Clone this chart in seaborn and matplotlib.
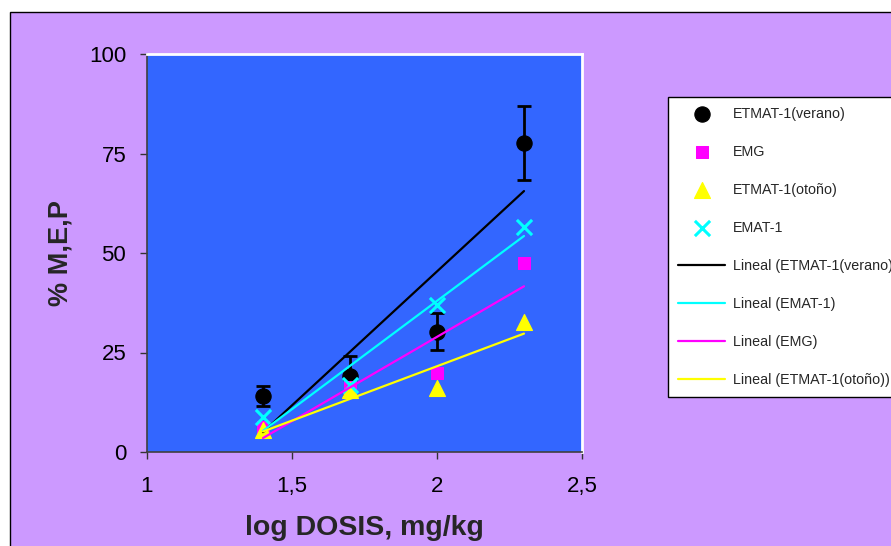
# Curvas dosis-respuesta (% M,E,P vs log dosis)

import matplotlib.pyplot as plt
import matplotlib.patches as mpatches
import seaborn as sns
import pandas as pd

log_dosis = [1.4, 1.7, 2.0, 2.3]
verano = [14.1, 19.1, 30.2, 77.7]
verano_err = [2.6, 5.0, 4.6, 9.3]
emg = [6.4, 16.4, 19.9, 47.6]
otono = [5.5, 15.6, 16.0, 32.7]
emat = [8.9, 16.8, 36.9, 56.6]

x_ticks = [1, 1.5, 2, 2.5]
x_tick_labels = ['1', '1,5', '2', '2,5']
y_ticks = [0, 25, 50, 75, 100]

df = pd.DataFrame({'x': log_dosis, 'verano': verano, 'emg': emg,
                   'otono': otono, 'emat': emat})

sns.set_style('white')
plt.rcParams['font.family'] = ['Liberation Sans', 'DejaVu Sans']

fig = plt.figure(figsize=(8.91, 5.46), dpi=100, facecolor='white')
# fondo del area del grafico (estilo Excel)
fig.patches.append(mpatches.Rectangle((10 / 891, -0.05), 1.1, 0.978 + 0.05,
                                      transform=fig.transFigure, facecolor='#CC99FF',
                                      edgecolor='black', linewidth=1, zorder=-10))

ax = fig.add_axes([147 / 891, 94 / 546, 435 / 891, 398 / 546])
ax.set_facecolor('#3366FF')

ax.errorbar(log_dosis, verano, yerr=verano_err, fmt='none', ecolor='black',
            elinewidth=2, capsize=5, capthick=2, zorder=2)
sns.scatterplot(data=df, x='x', y='verano', ax=ax, color='black', marker='o', s=120,
                edgecolor='black', label='ETMAT-1(verano)', zorder=3)
sns.scatterplot(data=df, x='x', y='emg', ax=ax, color='#FF00FF', marker='s', s=85,
                edgecolor='#FF00FF', label='EMG', zorder=3)
sns.scatterplot(data=df, x='x', y='otono', ax=ax, color='#FFFF00', marker='^', s=130,
                edgecolor='#FFFF00', label='ETMAT-1(otoño)', zorder=3)
sns.scatterplot(data=df, x='x', y='emat', ax=ax, color='#00FFFF', marker='x', s=120,
                linewidth=2.2, label='EMAT-1', zorder=3)

# lineas de tendencia
sns.regplot(data=df, x='x', y='verano', ax=ax, scatter=False, ci=None, color='black',
            line_kws={'linewidth': 1.6, 'zorder': 4}, label='Lineal (ETMAT-1(verano)')
sns.regplot(data=df, x='x', y='emat', ax=ax, scatter=False, ci=None, color='#00FFFF',
            line_kws={'linewidth': 1.6, 'zorder': 4}, label='Lineal (EMAT-1)')
sns.regplot(data=df, x='x', y='emg', ax=ax, scatter=False, ci=None, color='#FF00FF',
            line_kws={'linewidth': 1.6, 'zorder': 4}, label='Lineal (EMG)')
sns.regplot(data=df, x='x', y='otono', ax=ax, scatter=False, ci=None, color='#FFFF00',
            line_kws={'linewidth': 1.6, 'zorder': 4}, label='Lineal (ETMAT-1(otoño))')

ax.set_xlim(1, 2.5)
ax.set_ylim(0, 100)
ax.set_xticks(x_ticks)
ax.set_xticklabels(x_tick_labels)
ax.set_yticks(y_ticks)
ax.tick_params(axis='both', labelsize=16, length=5, width=1, direction='out',
               colors='#333333', labelcolor='black')
ax.tick_params(axis='x', pad=12, bottom=True)
ax.tick_params(axis='y', pad=10, left=True)

for side in ['top', 'right']:
    ax.spines[side].set_color('white')
    ax.spines[side].set_linewidth(2)
for side in ['left', 'bottom']:
    ax.spines[side].set_color('#404040')
    ax.spines[side].set_linewidth(1.2)

ax.set_xlabel('log DOSIS, mg/kg', fontsize=20.5, fontweight='bold')
ax.set_ylabel('% M,E,P', fontsize=19.5, fontweight='bold')
ax.xaxis.set_label_coords(0.5, -0.158)
ax.yaxis.set_label_coords(-0.17, 0.5)

handles, labels = ax.get_legend_handles_labels()
ax.get_legend().remove()
fig.legend(handles, labels, loc='upper left', bbox_to_anchor=(668 / 891, 1 - 97 / 546),
           bbox_transform=fig.transFigure, fontsize=10.3, frameon=True, fancybox=False,
           edgecolor='black', framealpha=1, facecolor='white', labelspacing=1.68,
           handlelength=3.3, handletextpad=0.55, borderpad=0.7, borderaxespad=0)

plt.savefig('out.png', dpi=100)
